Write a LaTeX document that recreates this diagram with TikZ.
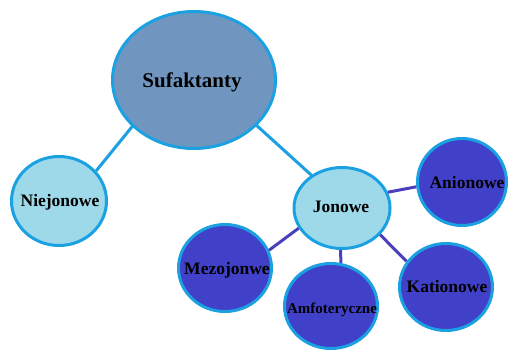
\documentclass[tikz,border=0pt]{standalone}
\usepackage{fontspec}
\setmainfont{Liberation Serif}
\usetikzlibrary{shapes.geometric}
\definecolor{cyanb}{HTML}{1BA1E2}
\definecolor{topfill}{HTML}{7096C0}
\definecolor{lightfill}{HTML}{9ED9EA}
\definecolor{darkfill}{HTML}{4040C8}
\definecolor{darkline}{HTML}{4A40BE}
\tikzset{
  bub/.style={ellipse, draw=cyanb, line width=3pt, inner sep=0pt},
  topb/.style={bub, fill=topfill},
  lightb/.style={bub, fill=lightfill},
  darkb/.style={bub, fill=darkfill},
  txt/.style={font=\bfseries\fontsize{17.5}{20}\selectfont, inner sep=0pt},
  cline/.style={draw=cyanb, line width=3pt},
  dline/.style={draw=darkline, line width=3pt},
}
\begin{document}
\begin{tikzpicture}[x=1pt,y=-1pt]
\useasboundingbox (0,0) rectangle (510,351);
\node[topb, minimum width=163, minimum height=137] (suf) at (194,80) {};
\node[lightb, minimum width=95, minimum height=89] (niej) at (59,201) {};
\node[lightb, minimum width=96, minimum height=81] (jon) at (342,208) {};
\node[darkb, minimum width=89, minimum height=87] (anion) at (462,182) {};
\node[darkb, minimum width=93, minimum height=87] (mezo) at (225,268) {};
\node[darkb, minimum width=93, minimum height=85] (amf) at (331,306) {};
\node[darkb, minimum width=93, minimum height=87] (kat) at (446,287) {};
\node[txt, font=\bfseries\fontsize{21}{24}\selectfont] (suft) at (192,82) {Sufaktanty};
\node[txt] (niejt) at (60,202) {Niejonowe};
\node[txt] (jont) at (341,207) {Jonowe};
\node[txt] (aniont) at (467,183) {Anionowe};
\node[txt] (mezot) at (227,270) {Mezojonwe};
\node[txt, font=\bfseries\fontsize{15}{18}\selectfont] (amft) at (332,310) {Amfoteryczne};
\node[txt] (katt) at (447,287) {Kationowe};
\draw[cline] (suf.217) -- (niej.39);
\draw[cline] (suf.324) -- (jon.133);
\draw[dline] (jon.19) -- (anion.186);
\draw[dline] (jon.205) -- (mezo.22);
\draw[dline] (jon.268) -- (amf.77);
\draw[dline] (jon.325) -- (kat.147);
\end{tikzpicture}
\end{document}
